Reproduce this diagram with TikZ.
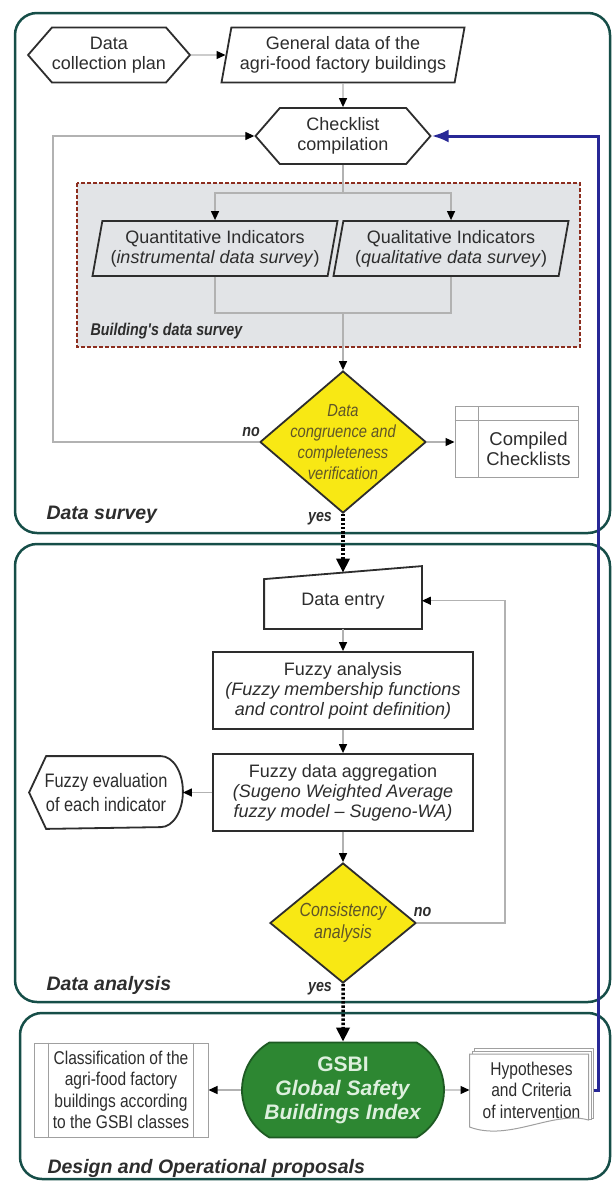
\documentclass[tikz,border=0pt]{standalone}
\usepackage{fontspec}
\setmainfont{Liberation Sans}
\newfontfamily\narrowsf[FakeStretch=0.84]{Liberation Sans}
\usetikzlibrary{calc,arrows.meta,shapes.geometric,shapes.symbols,shapes.misc}

\definecolor{framegreen}{RGB}{22,78,72}
\definecolor{textgray}{RGB}{45,45,45}
\definecolor{connline}{RGB}{178,178,178}
\definecolor{surveyred}{RGB}{140,45,30}
\definecolor{surveyfill}{RGB}{226,228,231}
\definecolor{decisionfill}{RGB}{248,232,20}
\definecolor{decisiontext}{RGB}{95,85,40}
\definecolor{gsbigreen}{RGB}{45,135,50}
\definecolor{gsbidark}{RGB}{30,90,35}
\definecolor{gsbitext}{RGB}{222,240,222}
\definecolor{loopblue}{RGB}{40,40,150}
\definecolor{lightgrayline}{RGB}{160,160,160}

\tikzset{
  phase/.style={draw=framegreen,line width=2.5pt,rounded corners=22pt,fill=white},
  phasetitle/.style={anchor=west,text=textgray,font=\bfseries\itshape\fontsize{19.5}{22}\selectfont},
  surveybox/.style={draw=surveyred,fill=surveyfill,line width=2pt,dash pattern=on 4pt off 2pt},
  surveytitle/.style={anchor=west,text=textgray,font=\narrowsf\bfseries\itshape\fontsize{17}{20}\selectfont},
  box/.style={draw=textgray,line width=1.8pt,text=textgray,align=center,inner sep=0pt,
    font=\fontsize{18}{20}\selectfont},
  hexbox/.style={box,signal,signal to=west and east,signal pointer angle=98},
  iobox/.style={box,trapezium,trapezium left angle=75,trapezium right angle=105,trapezium stretches body},
  plainbox/.style={box,draw=none},
  decision/.style={diamond,draw=textgray,line width=1.8pt,fill=decisionfill,inner sep=0pt},
  dtext/.style={text=decisiontext,align=center,font=\narrowsf\itshape\fontsize{17.5}{21}\selectfont},
  lightbox/.style={draw=lightgrayline,line width=1pt,text=textgray,align=center,inner sep=0pt,
    font=\narrowsf\fontsize{18.5}{21.5}\selectfont},
  lightline/.style={draw=lightgrayline,line width=1pt},
  gsbibox/.style={rounded rectangle,rounded rectangle arc length=120,draw=gsbidark,line width=1.8pt,
    fill=gsbigreen,text=gsbitext,align=center,inner sep=0pt,font=\bfseries\fontsize{21}{24}\selectfont},
  conn/.style={draw=connline,line width=1.3pt},
  arr/.style={-{Triangle[length=9pt,width=8pt,color=black]}},
  yesflow/.style={draw=black,line width=3.5pt,dash pattern=on 2.5pt off 1.8pt,-{Triangle[length=14pt,width=13pt]}},
  blueflow/.style={draw=loopblue,line width=3pt,-{Latex[length=17pt,width=13pt]}},
  yesno/.style={text=textgray,font=\narrowsf\bfseries\itshape\fontsize{17}{20}\selectfont}
}

\begin{document}
\begin{tikzpicture}[x=1pt,y=-1pt]
  \useasboundingbox (0,0) rectangle (615,1183);

  % the three phases
  \draw[phase] (15,13) rectangle (610,533);
  \draw[phase] (15,544) rectangle (610,1002);
  \draw[phase] (20,1013) rectangle (610,1179);
  \draw[surveybox] (77,183) rectangle (580,347);

  \node[phasetitle] (survey) at (43,515) {Data survey};
  \node[phasetitle] (analysis) at (43,985) {Data analysis};
  \node[phasetitle] (proposals) at (44,1168) {Design and Operational proposals};
  \node[surveytitle] (building) at (87,331) {Building's data survey};

  % data survey
  \node[hexbox,minimum width=158pt,minimum height=55pt] (dcp) at (109,55) {Data\\collection plan};
  \node[iobox,minimum width=243pt,minimum height=55pt] (gd) at (343,55) {General data of the\\agri-food factory buildings};
  \node[hexbox,minimum width=175pt,minimum height=56pt] (cc) at (343,136) {Checklist\\compilation};
  \node[iobox,minimum width=245pt,minimum height=55pt] (qn) at (215,248.5) {Quantitative Indicators\\(\textit{instrumental data survey})};
  \node[iobox,minimum width=235pt,minimum height=55pt] (ql) at (451,248.5) {Qualitative Indicators\\(\textit{qualitative data survey})};
  \node[decision,minimum width=166pt,minimum height=142pt,
    label={[dtext]center:{Data\\congruence and\\completeness\\verification}}] (d1) at (343,442) {};
  \node[lightbox,minimum width=123pt,minimum height=71pt,
    label={[xshift=12pt,yshift=-7pt,text=textgray,align=center,font=\fontsize{18.5}{20}\selectfont]center:{Compiled\\Checklists}}] (cl) at (516.5,442) {};
  \draw[lightline] ($(cl.north west)+(24,0)$) -- ($(cl.south west)+(24,0)$);
  \draw[lightline] ($(cl.north west)+(0,14)$) -- ($(cl.north east)+(0,14)$);

  \coordinate (split) at (343,193);
  \coordinate (merge) at (343,313);
  \coordinate (noL) at (53,442);

  \draw[conn,arr] (dcp) -- (gd);
  \draw[conn,arr] (gd) -- (cc);
  \draw[conn] (cc) -- (split);
  \draw[conn,arr] (split) -| (qn);
  \draw[conn,arr] (split) -| (ql);
  \draw[conn] (qn) |- (merge);
  \draw[conn] (ql) |- (merge);
  \draw[conn,arr] (merge) -- (d1);
  \draw[conn,arr] (d1) -- (cl);
  \draw[conn,arr] (d1.west) -- (noL) |- (cc.west);
  \node[yesno] (no1) at (251,432) {no};
  \node[yesno] (yes1) at (320,519) {yes};

  % data analysis
  \node[plainbox,minimum width=156pt,minimum height=54.5pt] (de) at (343,600.75) {Data entry};
  \draw[draw=textgray,line width=1.8pt] (de.south west) -- ($(de.north west)+(0,6.5)$)
    -- ($(de.north east)+(0,-6.5)$) -- (de.south east) -- cycle;
  \node[box,minimum width=260pt,minimum height=77pt] (fa) at (343,690.5)
    {Fuzzy analysis\\\textit{(Fuzzy membership functions}\\\textit{and control point definition)}};
  \node[box,minimum width=260pt,minimum height=77pt] (ag) at (343,792.5)
    {Fuzzy data aggregation\\\textit{(Sugeno Weighted Average}\\\textit{fuzzy model – Sugeno-WA)}};
  \node[plainbox,minimum width=152pt,minimum height=71pt,font=\narrowsf\fontsize{19.5}{24}\selectfont] (ev) at (106,792.5)
    {Fuzzy evaluation\\of each indicator};
  \draw[draw=textgray,line width=1.8pt] (ev.west) -- ($(ev.north west)+(17,0)$) -- ($(ev.north east)+(-22,0)$)
    arc[start angle=-90,end angle=90,x radius=22,y radius=35.5] -- ($(ev.south west)+(17,0)$) -- cycle;
  \node[decision,minimum width=146pt,minimum height=120pt,
    label={[dtext,font=\narrowsf\itshape\fontsize{19}{22}\selectfont]center:{Consistency\\analysis}}] (d2) at (343,923) {};

  \coordinate (noR) at (505,923);

  \draw[yesflow] (d1) -- (de);
  \draw[conn,arr] (de) -- (fa);
  \draw[conn,arr] (fa) -- (ag);
  \draw[conn,arr] (ag) -- (d2);
  \draw[conn,arr] (ag) -- (ev);
  \draw[conn,arr] (d2.east) -- (noR) |- (de.east);
  \node[yesno] (no2) at (422.5,912.5) {no};
  \node[yesno] (yes2) at (320,989) {yes};

  % design and operational proposals
  \node[gsbibox,minimum width=202pt,minimum height=95pt] (gs) at (343,1090)
    {GSBI\\\textit{Global Safety}\\\textit{Buildings Index}};
  \node[lightbox,minimum width=174pt,minimum height=94pt] (cf) at (121,1090)
    {Classification of the\\agri-food factory\\buildings according\\to the GSBI classes};
  \draw[lightline] ($(cf.north west)+(15,0)$) -- ($(cf.south west)+(15,0)$);
  \draw[lightline] ($(cf.north east)+(-15,0)$) -- ($(cf.south east)+(-15,0)$);
  \node[lightbox,draw=none,minimum width=123pt,minimum height=83pt] (hy) at (531.5,1090)
    {Hypotheses\\and Criteria\\of intervention};
  \draw[lightline] ($(hy.north west)+(5,3)$) -- ($(hy.north west)+(5,0)$) -- (hy.north east)
    -- ($(hy.north east)+(0,70)$) -- ($(hy.north east)+(-2.5,70)$);
  \draw[lightline] ($(hy.north west)+(2.5,6)$) -- ($(hy.north west)+(2.5,3)$) -- ($(hy.north east)+(-2.5,3)$)
    -- ($(hy.north east)+(-2.5,71)$) -- ($(hy.north east)+(-5,71)$);
  \draw[lightline] ($(hy.north west)+(0,6)$) -- ($(hy.north east)+(-5,6)$) -- ($(hy.north east)+(-5,72)$)
    .. controls +(-35,-10) and +(40,15) .. ($(hy.north west)+(0,79)$) -- cycle;

  \coordinate (blueB) at (598,1090);

  \draw[yesflow] (d2) -- (gs);
  \draw[conn,arr] (gs) -- (cf);
  \draw[conn,arr] (gs) -- (hy);
  \draw[blueflow] (hy.east) -- (blueB) |- (cc.east);
\end{tikzpicture}
\end{document}
